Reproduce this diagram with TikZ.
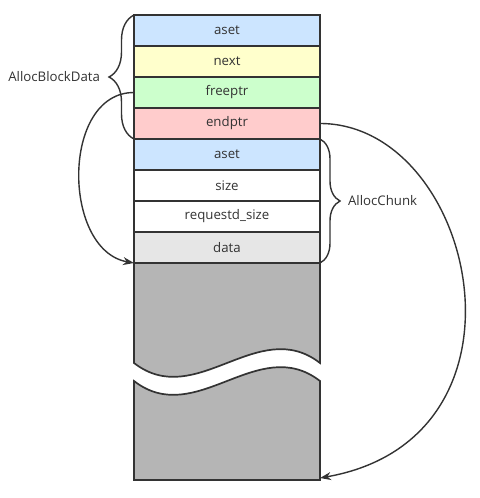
\documentclass[tikz,border=0pt]{standalone}
\usepackage{fontspec}
\setmainfont{Open Sans}
\usetikzlibrary{arrows.meta,positioning,decorations.pathreplacing}

\definecolor{ink}{HTML}{333333}
\definecolor{asetblue}{HTML}{CCE5FF}
\definecolor{nextyellow}{HTML}{FFFFCC}
\definecolor{freegreen}{HTML}{CCFFCC}
\definecolor{endred}{HTML}{FFCCCC}
\definecolor{datagray}{HTML}{E6E6E6}
\definecolor{heap}{HTML}{B5B5B5}

\begin{document}
\begin{tikzpicture}[
                        x=1bp, y=-1bp,
                        >={Stealth[length=11bp,width=8bp]},
                        node distance=31bp,
                        every node/.style={text=ink,font=\fontsize{13.3}{16}\selectfont}
                    ]
                    \tikzstyle{field}=[draw=ink,line width=1.7bp,minimum width=186bp,minimum height=31bp,inner sep=0pt,outer sep=0pt]
                    \tikzstyle{gap}=[fill=heap,draw=ink,line width=1.7bp]
                    \tikzstyle{brace}=[draw=ink,line width=1.4bp,decorate]
                    \tikzstyle{link}=[->,draw=ink,line width=1.4bp]

                    \useasboundingbox (0,0) rectangle (480,498);

                    % the free space, cut in two
                    \filldraw[gap] (134,263) -- (320,263) -- (320,363)
                        .. controls (258,315) and (196,411) .. (134,363) -- cycle;
                    \filldraw[gap] (134,381) .. controls (196,429) and (258,333) .. (320,381)
                        -- (320,480) -- (134,480) -- cycle;
                    \coordinate (bot) at (320,478);

                    \node[field,fill=asetblue]   (aset)  at (227,30.5)   {aset} ;
                    \node[field,fill=nextyellow] (next)  [below of=aset]  {next} ;
                    \node[field,fill=freegreen]  (free)  [below of=next]  {freeptr} ;
                    \node[field,fill=endred]     (end)   [below of=free]  {endptr} ;
                    \node[field,fill=asetblue]   (caset) [below of=end]   {aset} ;
                    \node[field,fill=white]      (size)  [below of=caset] {size} ;
                    \node[field,fill=white]      (req)   [below of=size]  {requestd\_size} ;
                    \node[field,fill=datagray]   (data)  [below of=req]   {data} ;

                    \draw[brace,decoration={brace,amplitude=25bp}]
                        (end.south west) -- (aset.north west)
                        node[midway,left=30bp] {AllocBlockData};
                    \draw[brace,decoration={brace,amplitude=20bp}]
                        (caset.north east) -- (data.south east)
                        node[midway,right=24bp] {AllocChunk};

                    \path
                    (free.west) edge [link,out=180,in=170,looseness=1.1] (data.south west)
                    (end.east)  edge [link,out=0,in=10,out distance=155bp,in distance=230bp] (bot) ;

                \end{tikzpicture}
\end{document}
